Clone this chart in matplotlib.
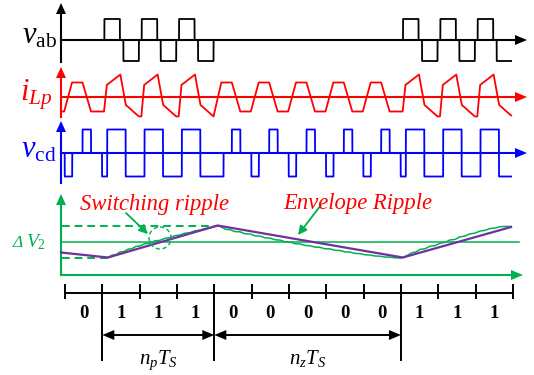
import numpy as np
import matplotlib
matplotlib.use('Agg')
import matplotlib.pyplot as plt
from matplotlib.patches import Ellipse

plt.rcParams['mathtext.fontset'] = 'custom'
plt.rcParams['mathtext.rm'] = 'Liberation Serif'
plt.rcParams['mathtext.it'] = 'Liberation Serif:italic'
plt.rcParams['mathtext.bf'] = 'Liberation Serif:bold'

# ---------------- data ----------------
states = [0, 1, 1, 1, 0, 0, 0, 0, 0, 1, 1, 1]
state_labels = ['0', '1', '1', '1', '0', '0', '0', '0', '0', '1', '1', '1']
t_end = 11.95                      # end of drawn waveforms (switching periods)

# v_ab during an active period: (start, end, level), phase in periods
vab_active = [(0.054, 0.469, 1), (0.563, 0.978, -1)]
vab_zero = []

# v_cd pulses per state: (start, end, level); may run into next period
vcd_zero = [(0.469, 0.696, 1), (0.991, 1.192, -1)]
vcd_active = [(0.129, 0.624, 1), (0.624, 1.246, -1)]

# i_Lp corner points per state: phase and level (nan = hold previous level)
ilp_zero_phase = [0.188, 0.469, 0.696, 0.978]
ilp_zero_level = [1.0, 1.0, -1.0, -1.0]
ilp_active_phase = [0.045, 0.121, 0.482, 0.630, 0.978]
ilp_active_level = [np.nan, 0.83, 1.55, -0.55, -1.34]

# capacitor voltage: envelope (purple) and actual ripple (green)
env_t = [-0.107, 1.15, 4.09, 9.05, 11.95]
env_v = [-10.5, -15.5, 16.5, -15.5, 15.0]
green_t = [1.15, 1.26, 1.37, 1.47, 1.58, 1.69, 1.79, 1.90, 2.01, 2.14, 2.28, 2.41,
           2.54, 2.68, 2.81, 2.95, 3.08, 3.21, 3.35, 3.48, 3.62, 3.75, 3.88, 4.02,
           4.10, 4.21, 4.31, 4.42, 4.55, 4.69, 4.82, 4.96, 5.09, 5.22, 5.36, 5.49,
           5.63, 5.76, 5.89, 6.03, 6.16, 6.30, 6.43, 6.56, 6.70, 6.83, 6.96, 7.10,
           7.23, 7.37, 7.50, 7.63, 7.77, 7.90, 8.04, 8.17, 8.30, 8.44, 8.57, 8.71,
           8.84, 8.98, 9.05, 9.19, 9.30, 9.40, 9.51, 9.64, 9.78, 9.91, 10.05, 10.18,
           10.31, 10.45, 10.58, 10.71, 10.85, 10.98, 11.12, 11.25, 11.38, 11.52,
           11.65, 11.79, 11.95]
green_v = [-15.5, -13.2, -12.6, -10.0, -9.6, -7.2, -6.8, -4.4, -4.0, -1.6, -1.2, 1.2,
           1.6, 3.8, 4.3, 6.4, 7.0, 8.8, 9.4, 11.2, 11.9, 13.4, 14.2, 15.6,
           16.5, 14.5, 12.6, 12.4, 10.4, 10.2, 8.2, 8.0, 6.2, 6.0, 4.2, 3.9,
           2.2, 1.9, 0.2, -0.1, -1.7, -2.0, -3.5, -3.7, -5.1, -5.3, -6.7, -6.9,
           -8.3, -8.5, -9.9, -10.1, -11.4, -11.6, -12.8, -13.0, -14.0, -14.2, -15.0, -15.2,
           -15.8, -16.1, -15.5, -13.0, -10.6, -10.0, -7.4, -6.8, -4.2, -3.6, -1.2, -0.4,
           2.0, 2.6, 5.2, 5.8, 8.2, 8.8, 11.0, 11.6, 13.4, 13.9,
           15.3, 15.6, 15.5]
dash_upper = 16.3
dash_lower = -16.0

# ---------------- layout ----------------
X0, T = 65.0, 37.33        # pixel of t=0, pixels per switching period
W, H = 534, 375
def px(x):
    return (x - X0) / T

BLACK, RED, BLUE = '#000000', '#ff0000', '#0000ff'
GREEN, PURPLE = '#00b050', '#7030a0'
LW = 1.3

fig = plt.figure(figsize=(W / 100, H / 100), dpi=100)
ax = fig.add_axes([0, 0, 1, 1])
ax.set_xlim(px(0), px(W))
ax.set_ylim(H, 0)
ax.axis('off')

def head(xt, yt, direction, color, length=12, hw=5):
    if direction == 'up':
        xs = [xt, xt - hw, xt + hw]; ys = [yt, yt + length, yt + length]
    elif direction == 'right':
        xs = [xt, xt - length, xt - length]; ys = [yt, yt - hw, yt + hw]
    else:  # left
        xs = [xt, xt + length, xt + length]; ys = [yt, yt - hw, yt + hw]
    ax.fill([px(x) for x in xs], ys, color=color, lw=0, zorder=5)

def axes_pair(y0, ytop, ybot, xright, color):
    ax.plot([px(61), px(61)], [ytop + 8, ybot], color=color, lw=1.5, zorder=3)
    ax.plot([px(61), px(xright) - 8 / T], [y0, y0], color=color, lw=1.5, zorder=3)
    head(61, ytop, 'up', color, length=11, hw=5)
    head(xright, y0, 'right', color, length=12, hw=5)

t_start = px(61)
tt = np.arange(t_start, t_end, 0.0005)

def paint(templates_for_state, include_phantom=True):
    sig = np.zeros_like(tt)
    seq = ([(-1, 0)] if include_phantom else []) + list(enumerate(states))
    for k, s in seq:
        for a, b, lev in templates_for_state(s):
            sig[(tt >= k + a) & (tt < k + b)] = lev
    return sig

# ---- v_ab ----
axes_pair(40, 3, 62, 527, BLACK)
vab = paint(lambda s: vab_active if s == 1 else vab_zero, include_phantom=False)
ax.plot(tt, 40 - 21 * vab, color=BLACK, lw=LW, zorder=4)
ax.text(px(22), 43, r'$v_{\mathrm{ab}}$', fontsize=22, color=BLACK,
        ha='left', va='baseline')

# ---- i_Lp ----
axes_pair(97, 67, 117, 527, RED)
pt_t = [t_start, -1 + ilp_zero_phase[-1]]
pt_v = [-1.0, -1.0]
for k, s in enumerate(states):
    ph, lv = (ilp_zero_phase, ilp_zero_level) if s == 0 else (ilp_active_phase, ilp_active_level)
    for p, l in zip(ph, lv):
        if np.isnan(l):
            l = pt_v[-1]
        pt_t.append(k + p)
        pt_v.append(l)
pt_t = np.array(pt_t); pt_v = np.array(pt_v)
keep = pt_t < t_end
it = np.append(pt_t[keep], t_end)
iv = np.append(pt_v[keep], np.interp(t_end, pt_t, pt_v))
ax.plot(it, 97 - 14.5 * iv, color=RED, lw=LW, zorder=4)
ax.text(px(20), 100, r'$i_{Lp}$', fontsize=22, color=RED, ha='left', va='baseline')

# ---- v_cd ----
axes_pair(153, 121, 183, 527, BLUE)
vcd = paint(lambda s: vcd_active if s == 1 else vcd_zero)
ax.plot(tt, 153 - 23.5 * vcd, color=BLUE, lw=LW, zorder=4)
ax.text(px(21), 158, r'$v_{\mathrm{cd}}$', fontsize=22, color=BLUE,
        ha='left', va='baseline')

# ---- capacitor voltage ----
GC = 242
ax.plot([px(61), px(61)], [203, 275], color=GREEN, lw=1.5, zorder=3)
head(61, 194, 'up', GREEN, length=11, hw=5)
ax.plot([px(61), px(523) - 8 / T], [275, 275], color=GREEN, lw=1.5, zorder=3)
head(523, 275, 'right', GREEN, length=12, hw=5)
ax.plot([px(61), px(519)], [GC, GC], color=GREEN, lw=1.1, zorder=3)
ax.plot([px(62), px(218)], [GC - dash_upper] * 2, color=GREEN, lw=1.4,
        ls=(0, (4, 2.5)), zorder=3)
ax.plot([px(62), px(108)], [GC - dash_lower] * 2, color=GREEN, lw=1.4,
        ls=(0, (4, 2.5)), zorder=3)
ax.plot(green_t, GC - np.array(green_v), color=GREEN, lw=1.1, zorder=4)
ax.plot(env_t, GC - np.array(env_v), color=PURPLE, lw=1.6, zorder=4)
ax.add_patch(Ellipse((px(160), 238), 22 / T, 22, fill=False, ec=GREEN,
                     lw=1.0, ls=(0, (3, 2)), zorder=4))
ax.annotate('', xy=(px(148), 234), xytext=(px(126), 213),
            arrowprops=dict(arrowstyle='-|>', color=GREEN, lw=1.3,
                            mutation_scale=13, shrinkA=0, shrinkB=0))
ax.annotate('', xy=(px(298), 235), xytext=(px(321), 205),
            arrowprops=dict(arrowstyle='-|>', color=GREEN, lw=1.3,
                            mutation_scale=13, shrinkA=0, shrinkB=0))
ax.text(px(80), 210, 'Switching ripple', family='Liberation Serif', style='italic',
        fontsize=16.3, color=RED, ha='left', va='baseline')
ax.text(px(283), 209, 'Envelope Ripple', family='Liberation Serif', style='italic',
        fontsize=16.3, color=RED, ha='left', va='baseline')
ax.text(px(13), 247, 'Δ', family='Liberation Serif', style='italic',
        fontsize=12.5, color=GREEN, ha='left', va='baseline')
ax.text(px(26), 247, r'$V_2$', fontsize=14, color=GREEN,
        ha='left', va='baseline')

# ---- switching-state timeline ----
n = len(states)
ax.plot([0, n], [293, 293], color=BLACK, lw=1.4)
for k in range(n + 1):
    ax.plot([k, k], [285, 298], color=BLACK, lw=1.4)
for k, lab in enumerate(state_labels):
    ax.text(k + 0.5, 318, lab, family='Liberation Serif', weight='bold',
            fontsize=13.5, ha='center', va='baseline')
# interval markers (boundaries where state changes)
bounds = [k for k in range(1, n) if states[k] != states[k - 1]]
for b in bounds:
    ax.plot([b, b], [285, 360], color=BLACK, lw=1.4)
labels_int = [r'$n_pT_S$', r'$n_zT_S$']
for (a, b), lab in zip(zip(bounds[:-1], bounds[1:]), labels_int):
    ax.plot([a + 10 / T, b - 10 / T], [335, 335], color=BLACK, lw=1.4)
    head(X0 + a * T, 335, 'left', BLACK, length=12, hw=5)
    head(X0 + b * T, 335, 'right', BLACK, length=12, hw=5)
    ax.text((a + b) / 2, 364, lab, fontsize=15, ha='center', va='baseline')

fig.savefig('out.png', dpi=100)
